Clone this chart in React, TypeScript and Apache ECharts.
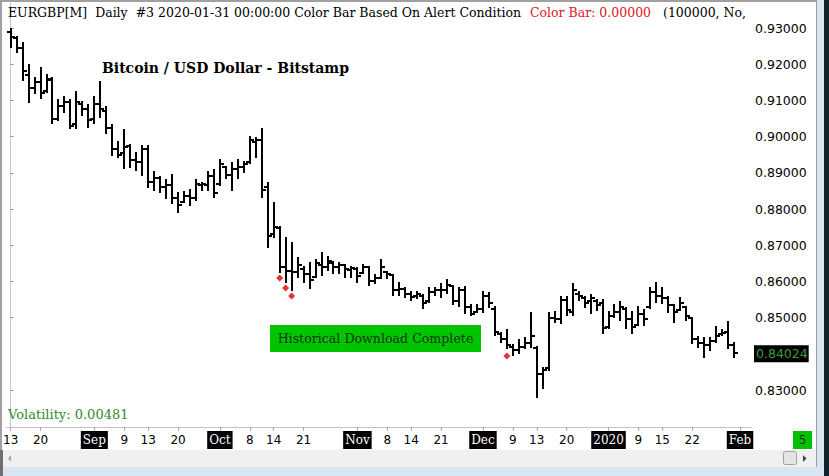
import React, { useEffect, useRef } from 'react';
import * as echarts from 'echarts';

// EURGBP daily bars, 2019-08-13 .. 2020-01-31 (bar index = trading day)
const opens = [
  0.9290, 0.9272, 0.9245, 0.9170, 0.9135, 0.9150, 0.9125, 0.9155, 0.9050, 0.9085,
  0.9095, 0.9035, 0.9090, 0.9075, 0.9050, 0.9090, 0.9070, 0.9025, 0.8965, 0.8955,
  0.8975, 0.8935, 0.8930, 0.8965, 0.8875, 0.8885, 0.8860, 0.8865, 0.8830, 0.8820,
  0.8835, 0.8830, 0.8865, 0.8865, 0.8890, 0.8870, 0.8915, 0.8895, 0.8910, 0.8915,
  0.8930, 0.8985, 0.8990, 0.8860, 0.8730, 0.8748, 0.8640, 0.8630, 0.8625, 0.8635,
  0.8620, 0.8612, 0.8645, 0.8640, 0.8650, 0.8640, 0.8645, 0.8632, 0.8635, 0.8623,
  0.8640, 0.8600, 0.8610, 0.8625, 0.8618, 0.8575, 0.8580, 0.8565, 0.8560, 0.8560,
  0.8545, 0.8570, 0.8575, 0.8575, 0.8587, 0.8545, 0.8575, 0.8530, 0.8515, 0.8525,
  0.8560, 0.8525, 0.8455, 0.8440, 0.8420, 0.8410, 0.8420, 0.8430, 0.8415, 0.8345,
  0.8360, 0.8500, 0.8495, 0.8550, 0.8515, 0.8565, 0.8555, 0.8545, 0.8545, 0.8540,
  0.8475, 0.8505, 0.8515, 0.8525, 0.8495, 0.8480, 0.8510, 0.8530, 0.8570, 0.8560,
  0.8555, 0.8535, 0.8521, 0.8529, 0.8499, 0.8440, 0.8430, 0.8425, 0.8435, 0.8455,
  0.8460, 0.8425,
];
const highs = [
  0.9297, 0.9275, 0.9259, 0.9198, 0.9162, 0.9190, 0.9170, 0.9162, 0.9101, 0.9109,
  0.9101, 0.9123, 0.9096, 0.9087, 0.9109, 0.9151, 0.9082, 0.9032, 0.8985, 0.9018,
  0.8977, 0.8955, 0.8974, 0.8974, 0.8902, 0.8888, 0.8880, 0.8894, 0.8844, 0.8847,
  0.8852, 0.8880, 0.8872, 0.8902, 0.8908, 0.8935, 0.8916, 0.8927, 0.8935, 0.8930,
  0.8999, 0.8996, 0.9021, 0.8872, 0.8817, 0.8750, 0.8720, 0.8706, 0.8665, 0.8640,
  0.8651, 0.8659, 0.8678, 0.8667, 0.8654, 0.8651, 0.8645, 0.8640, 0.8637, 0.8645,
  0.8640, 0.8618, 0.8659, 0.8626, 0.8618, 0.8596, 0.8582, 0.8571, 0.8571, 0.8562,
  0.8582, 0.8582, 0.8593, 0.8604, 0.8587, 0.8582, 0.8585, 0.8535, 0.8535, 0.8571,
  0.8568, 0.8529, 0.8457, 0.8466, 0.8424, 0.8438, 0.8444, 0.8513, 0.8419, 0.8361,
  0.8513, 0.8515, 0.8557, 0.8557, 0.8593, 0.8571, 0.8557, 0.8562, 0.8549, 0.8549,
  0.8515, 0.8535, 0.8543, 0.8527, 0.8515, 0.8529, 0.8521, 0.8582, 0.8596, 0.8582,
  0.8557, 0.8535, 0.8554, 0.8529, 0.8499, 0.8446, 0.8444, 0.8444, 0.8474, 0.8466,
  0.8488, 0.8430,
];
const lows = [
  0.9248, 0.9234, 0.9156, 0.9096, 0.9120, 0.9107, 0.9123, 0.9038, 0.9046, 0.9068,
  0.9024, 0.9024, 0.9060, 0.9027, 0.9038, 0.9054, 0.9010, 0.8949, 0.8944, 0.8913,
  0.8916, 0.8908, 0.8894, 0.8861, 0.8852, 0.8847, 0.8830, 0.8817, 0.8792, 0.8819,
  0.8811, 0.8825, 0.8852, 0.8852, 0.8833, 0.8866, 0.8886, 0.8852, 0.8886, 0.8902,
  0.8927, 0.8944, 0.8833, 0.8695, 0.8723, 0.8626, 0.8598, 0.8576, 0.8612, 0.8598,
  0.8582, 0.8612, 0.8618, 0.8632, 0.8623, 0.8623, 0.8612, 0.8612, 0.8598, 0.8623,
  0.8590, 0.8596, 0.8609, 0.8609, 0.8562, 0.8562, 0.8557, 0.8549, 0.8554, 0.8527,
  0.8543, 0.8562, 0.8557, 0.8568, 0.8538, 0.8532, 0.8513, 0.8507, 0.8515, 0.8515,
  0.8529, 0.8452, 0.8433, 0.8416, 0.8397, 0.8402, 0.8416, 0.8419, 0.8281, 0.8306,
  0.8355, 0.8488, 0.8485, 0.8507, 0.8507, 0.8549, 0.8529, 0.8513, 0.8521, 0.8457,
  0.8471, 0.8502, 0.8493, 0.8471, 0.8457, 0.8480, 0.8480, 0.8527, 0.8543, 0.8540,
  0.8515, 0.8488, 0.8521, 0.8493, 0.8430, 0.8419, 0.8391, 0.8411, 0.8433, 0.8452,
  0.8416, 0.8391,
];
const closes = [
  0.9275, 0.9245, 0.9180, 0.9134, 0.9150, 0.9120, 0.9160, 0.9050, 0.9085, 0.9095,
  0.9030, 0.9095, 0.9075, 0.9045, 0.9090, 0.9075, 0.9025, 0.8965, 0.8950, 0.8970,
  0.8935, 0.8930, 0.8965, 0.8875, 0.8885, 0.8860, 0.8865, 0.8830, 0.8810, 0.8835,
  0.8830, 0.8870, 0.8868, 0.8890, 0.8845, 0.8925, 0.8895, 0.8910, 0.8915, 0.8925,
  0.8990, 0.8990, 0.8853, 0.8725, 0.8750, 0.8640, 0.8630, 0.8625, 0.8645, 0.8620,
  0.8605, 0.8650, 0.8640, 0.8655, 0.8640, 0.8645, 0.8635, 0.8638, 0.8615, 0.8640,
  0.8600, 0.8610, 0.8640, 0.8620, 0.8575, 0.8580, 0.8565, 0.8558, 0.8565, 0.8540,
  0.8570, 0.8575, 0.8575, 0.8590, 0.8545, 0.8575, 0.8530, 0.8510, 0.8525, 0.8560,
  0.8540, 0.8460, 0.8440, 0.8425, 0.8410, 0.8420, 0.8430, 0.8450, 0.8345, 0.8355,
  0.8500, 0.8495, 0.8550, 0.8520, 0.8575, 0.8560, 0.8540, 0.8555, 0.8535, 0.8470,
  0.8505, 0.8515, 0.8530, 0.8495, 0.8475, 0.8510, 0.8495, 0.8570, 0.8560, 0.8555,
  0.8535, 0.8515, 0.8540, 0.8505, 0.8440, 0.8430, 0.8425, 0.8435, 0.8450, 0.8458,
  0.8425, 0.84024,
];

// alert condition markers (red diamonds)
const alertIdx = [45, 46, 47, 83];
const alertPrice = [0.86094, 0.85818, 0.85597, 0.83939];

// time axis labels (bar index -> text); index 122 is the next, empty session
const tickIdx = [0, 5, 14, 19, 23, 28, 35, 40, 44, 49, 58, 63, 67, 72, 79, 84, 88, 93, 100, 105, 109, 114, 122];
const tickText = ['13', '20', 'Sep', '9', '13', '20', 'Oct', '8', '14', '21', 'Nov', '8', '14', '21', 'Dec', '9', '13', '20', '2020', '9', '15', '22', 'Feb'];
const periodText = ['Sep', 'Oct', 'Nov', 'Dec', '2020', 'Feb'];

const priceTicks = [0.83, 0.85, 0.86, 0.87, 0.88, 0.89, 0.9, 0.91, 0.92, 0.93];

const volatility = '0.00481';
const colorBar = '0.00000';

const serif = '"DejaVu Serif", serif';
const sans = '"DejaVu Sans", sans-serif';

const App: React.FC = () => {
  const chartRef = useRef<HTMLDivElement>(null);

  useEffect(() => {
    if (!chartRef.current) return;
    const chart = echarts.init(chartRef.current, undefined, { renderer: 'svg' });

    const bars = opens.map((o, i) => [i, o, highs[i], lows[i], closes[i]]);
    const alerts = alertIdx.map((idx, k) => [idx, alertPrice[k]]);
    const lastClose = closes[closes.length - 1];

    const option = {
      animation: false,
      backgroundColor: '#ffffff',
      grid: { left: 4, right: 78, top: 3, bottom: 49 },
      xAxis: {
        type: 'value',
        min: -2 / 3,
        max: 743 / 6,
        splitLine: { show: false },
        axisLine: { show: true, lineStyle: { color: '#c4c4c4', width: 1 } },
        axisTick: {
          show: true,
          customValues: tickIdx,
          length: 4,
          lineStyle: { color: '#a8a8a8' },
        },
        axisLabel: {
          customValues: tickIdx,
          margin: 4,
          formatter: (v: number) => {
            const t = tickText[tickIdx.indexOf(Math.round(v))] ?? '';
            return periodText.includes(t) ? `{m|${t}}` : `{d|${t}}`;
          },
          rich: {
            m: {
              backgroundColor: '#000',
              color: '#fff',
              fontFamily: serif,
              fontSize: 12,
              height: 18,
              padding: [0, 2],
            },
            d: {
              color: '#000',
              fontFamily: sans,
              fontSize: 12,
              height: 18,
            },
          },
        },
      },
      yAxis: {
        type: 'value',
        position: 'right',
        min: 0.93 - 399 / 3620,
        max: 0.93 + 25 / 3620,
        splitLine: { show: false },
        axisLine: { show: true, lineStyle: { color: '#c4c4c4', width: 1 } },
        axisTick: {
          show: true,
          customValues: priceTicks,
          length: 3,
          lineStyle: { color: '#909090' },
        },
        axisLabel: {
          customValues: priceTicks,
          margin: 4,
          color: '#000',
          fontFamily: sans,
          fontSize: 12.5,
          formatter: (v: number) => v.toFixed(5),
        },
      },
      series: [
        {
          type: 'custom',
          name: 'EURGBP',
          clip: true,
          encode: { x: 0, y: [1, 2, 3, 4] },
          data: bars,
          renderItem: (_params: any, api: any) => {
            const i = api.value(0);
            const hi = api.coord([i, api.value(2)]);
            const lo = api.coord([i, api.value(3)]);
            const op = api.coord([i, api.value(1)]);
            const cl = api.coord([i, api.value(4)]);
            const x = Math.round(hi[0]);
            const style = { stroke: '#000', lineWidth: 2 };
            return {
              type: 'group',
              children: [
                { type: 'line', shape: { x1: x, y1: Math.round(hi[1]) - 1, x2: x, y2: Math.round(lo[1]) + 1 }, style },
                { type: 'line', shape: { x1: x - 4, y1: Math.round(op[1]), x2: x, y2: Math.round(op[1]) }, style },
                { type: 'line', shape: { x1: x, y1: Math.round(cl[1]), x2: x + 4, y2: Math.round(cl[1]) }, style },
              ],
            };
          },
        },
        {
          type: 'scatter',
          name: 'Alert',
          symbol: 'diamond',
          symbolSize: 7,
          itemStyle: { color: '#e00000' },
          data: alerts,
        },
        {
          // carries the last-price tag on the price axis
          type: 'line',
          name: 'Last',
          data: [[121, lastClose]],
          symbol: 'none',
          lineStyle: { width: 0 },
          clip: false,
          markLine: {
            silent: true,
            symbol: ['none', 'none'],
            lineStyle: { color: '#ffffff', width: 0, type: 'solid' },
            label: {
              show: true,
              position: 'end',
              distance: 3,
              formatter: lastClose.toFixed(5),
              color: '#3c9a3c',
              backgroundColor: '#000',
              fontFamily: sans,
              fontSize: 12.5,
              padding: [2, 1, 2, 2],
            },
            data: [{ yAxis: lastClose }],
          },
        },
      ],
      graphic: [
        // window chrome
        { type: 'rect', shape: { x: 0, y: 0, width: 816, height: 2 }, style: { fill: '#a0a0a0' }, z: 100 },
        { type: 'rect', shape: { x: 0, y: 0, width: 2, height: 467 }, style: { fill: '#a0a0a0' }, z: 100 },
        { type: 'rect', shape: { x: 2, y: 450, width: 814, height: 17 }, style: { fill: '#f0f0f0' }, z: 100 },
        { type: 'rect', shape: { x: 0, y: 450, width: 3, height: 26 }, style: { fill: '#6e6e6e' }, z: 101 },
        { type: 'rect', shape: { x: 0, y: 467, width: 824, height: 9 }, style: { fill: '#dae5f2' }, z: 100 },
        { type: 'rect', shape: { x: 816, y: 0, width: 1, height: 467 }, style: { fill: '#a0a0a0' }, z: 100 },
        { type: 'rect', shape: { x: 817, y: 0, width: 7, height: 476 }, style: { fill: '#dae5f2' }, z: 100 },
        { type: 'rect', shape: { x: 824, y: 0, width: 5, height: 476 }, style: { fill: '#0f242b' }, z: 100 },
        { type: 'polygon', shape: { points: [[11, 455], [11, 462], [8, 458.5]] }, style: { fill: '#a8a8a8' }, z: 101 },
        {
          type: 'rect',
          shape: { x: 783.5, y: 451.5, width: 13, height: 13, r: 2 },
          style: { fill: '#e4e4e4', stroke: '#a0a0a0', lineWidth: 1 },
          z: 101,
        },
        { type: 'polygon', shape: { points: [[803, 455], [803, 462], [806.5, 458.5]] }, style: { fill: '#404040' }, z: 101 },
        { type: 'rect', shape: { x: 793, y: 431, width: 19, height: 18 }, style: { fill: '#00c000' }, z: 100 },
        {
          type: 'text',
          x: 802.5,
          y: 440,
          style: { text: '5', fill: '#0c3a0c', font: `12px ${sans}`, align: 'center', verticalAlign: 'middle' },
          z: 102,
        },
        // header line
        {
          type: 'text',
          x: 8,
          y: 6,
          style: {
            text: 'EURGBP[M]  Daily  #3 2020-01-31 00:00:00 Color Bar Based On Alert Condition',
            fill: '#000',
            font: `12.5px ${serif}`,
          },
          z: 50,
        },
        {
          type: 'text',
          x: 530,
          y: 6,
          style: { text: `Color Bar: ${colorBar}`, fill: '#e01818', font: `12.5px ${serif}` },
          z: 50,
        },
        {
          type: 'text',
          x: 663,
          y: 6,
          style: { text: '(100000, No,', fill: '#000', font: `12.5px ${serif}` },
          z: 50,
        },
        {
          type: 'text',
          x: 102,
          y: 61,
          style: { text: 'Bitcoin / USD Dollar - Bitstamp', fill: '#000', font: `bold 14px ${serif}` },
          z: 50,
        },
        { type: 'rect', shape: { x: 270, y: 325, width: 211, height: 27 }, style: { fill: '#00c400' }, z: 50 },
        {
          type: 'text',
          x: 375.5,
          y: 338.5,
          style: {
            text: 'Historical Download Complete',
            fill: '#0f360f',
            font: `12.6px ${serif}`,
            align: 'center',
            verticalAlign: 'middle',
          },
          z: 52,
        },
        {
          type: 'text',
          x: 8,
          y: 408,
          style: { text: `Volatility: ${volatility}`, fill: '#2e8b2e', font: `13px ${serif}` },
          z: 50,
        },
      ],
    };

    chart.setOption(option);

    return () => {
      chart.dispose();
    };
  }, []);

  return (
    <div
      ref={chartRef}
      style={{ position: 'absolute', left: 0, top: 0, width: '829px', height: '476px' }}
    />
  );
};

export default App;
